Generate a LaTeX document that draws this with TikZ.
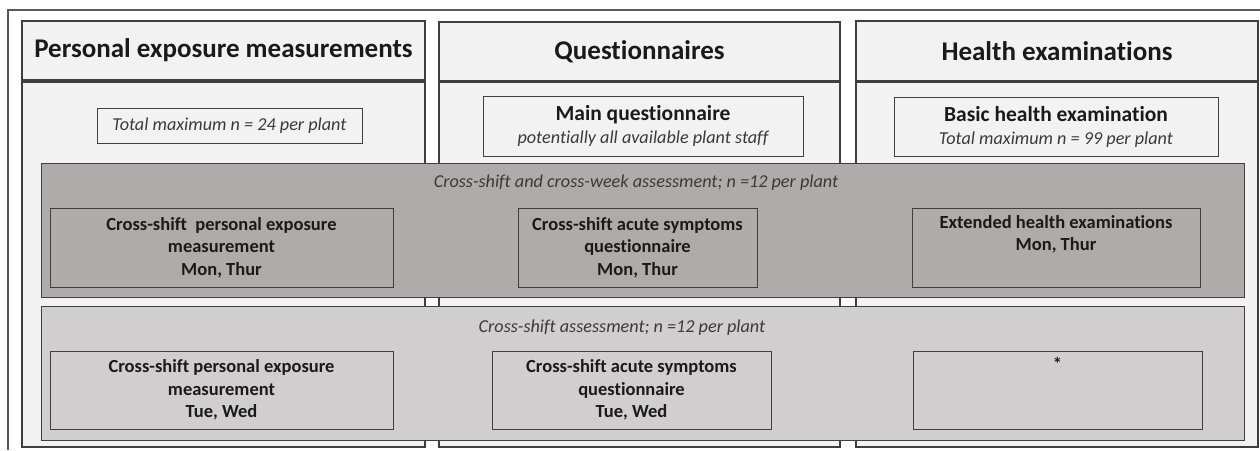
\documentclass[tikz,border=0pt]{standalone}
\usepackage{fontspec}
\setmainfont{Carlito}[Ligatures=NoCommon]
\definecolor{paper}{HTML}{F2F2F2}
\definecolor{darkband}{HTML}{AFABAB}
\definecolor{lightband}{HTML}{D0CECE}
\definecolor{edge}{HTML}{3F3F3F}
\definecolor{frameline}{HTML}{595959}
\definecolor{ink}{HTML}{1A1A1A}
\definecolor{softink}{HTML}{3A3A3A}
\begin{document}
\begin{tikzpicture}[x=1pt,y=-1pt,
  colbox/.style={draw=edge,line width=1.1pt,fill=paper,inner sep=0pt,outer sep=0pt},
  headtext/.style={font=\fontsize{27}{30}\selectfont\bfseries,text=ink},
  band/.style={draw=edge,line width=1pt,inner sep=0pt,outer sep=0pt},
  itembox/.style={draw=edge,line width=1pt,inner sep=0pt,outer sep=0pt,align=center,
    font=\fontsize{18.5}{22.5}\selectfont\bfseries,text=ink},
  bandtitle/.style={font=\fontsize{18.2}{20}\selectfont\itshape,text=softink,inner sep=0pt}]
\useasboundingbox (0,0) rectangle (1260,450);
\fill[white] (0,0) rectangle (1260,450);
% outer frame
\coordinate (fa) at (8,450);
\coordinate (fb) at (8,10);
\coordinate (fc) at (1260,10);
\draw[frameline,line width=1.3pt] (fa) -- (fb) -- (fc);
% column bodies
\node[colbox,minimum width=403pt,minimum height=365pt] (b1) at (223.5,264.5) {};
\node[colbox,minimum width=401pt,minimum height=365pt] (b2) at (639.5,264.5) {};
\node[colbox,minimum width=402pt,minimum height=365pt] (b3) at (1057,264.5) {};
% headers
\node[colbox,minimum width=403pt,minimum height=59pt,headtext] (h1) at (223.5,50.5) {Personal exposure measurements};
\node[colbox,minimum width=401pt,minimum height=59pt,headtext] (h2) at (639.5,51.5) {Questionnaires};
\node[colbox,minimum width=402pt,minimum height=60pt,headtext] (h3) at (1057,51) {Health examinations};
% top boxes
\node[itembox,fill=paper,minimum width=265pt,minimum height=35pt,font=\fontsize{18.2}{20}\selectfont\itshape,text=softink] (t1) at (229.5,125.5) {Total maximum n = 24 per plant};
\node[itembox,fill=paper,minimum width=320pt,minimum height=60pt,font=\fontsize{18.2}{23}\selectfont,text=ink] (t2) at (643,126)
  {{\fontsize{21.5}{23}\selectfont\bfseries Main questionnaire}\\{\itshape\color{softink}potentially all available plant staff}};
\node[itembox,fill=paper,minimum width=324pt,minimum height=59pt,font=\fontsize{18.2}{23}\selectfont,text=ink] (t3) at (1056,126.5)
  {{\fontsize{21.5}{23}\selectfont\bfseries Basic health examination}\\{\itshape\color{softink}Total maximum n = 99 per plant}};
% dark band
\node[band,fill=darkband,minimum width=1203pt,minimum height=134pt] (db) at (642.5,230) {};
\node[bandtitle] (dbt) at (636,183) {Cross-shift and cross-week assessment; n =12 per plant};
\node[itembox,minimum width=343pt,minimum height=79pt] (d1) at (221.5,247.5) {Cross-shift\ \ personal exposure\\measurement\\Mon, Thur};
\node[itembox,minimum width=239pt,minimum height=79pt] (d2) at (637.5,247.5) {Cross-shift acute symptoms\\questionnaire\\Mon, Thur};
\node[itembox,minimum width=288pt,minimum height=79pt] (d3) at (1056,247.5) {Extended health examinations\\Mon, Thur\\\strut};
% light band
\node[band,fill=lightband,minimum width=1203pt,minimum height=134pt] (lb) at (642.5,373) {};
\node[bandtitle] (lbt) at (622,328) {Cross-shift assessment; n =12 per plant};
\node[itembox,minimum width=343pt,minimum height=78pt] (l1) at (221.5,390) {Cross-shift personal exposure\\measurement\\Tue, Wed};
\node[itembox,minimum width=279pt,minimum height=78pt] (l2) at (631.5,390) {Cross-shift acute symptoms\\questionnaire\\Tue, Wed};
\node[itembox,minimum width=289pt,minimum height=78pt] (l3) at (1057.5,390) {*\\\strut\\\strut};
\end{tikzpicture}
\end{document}
